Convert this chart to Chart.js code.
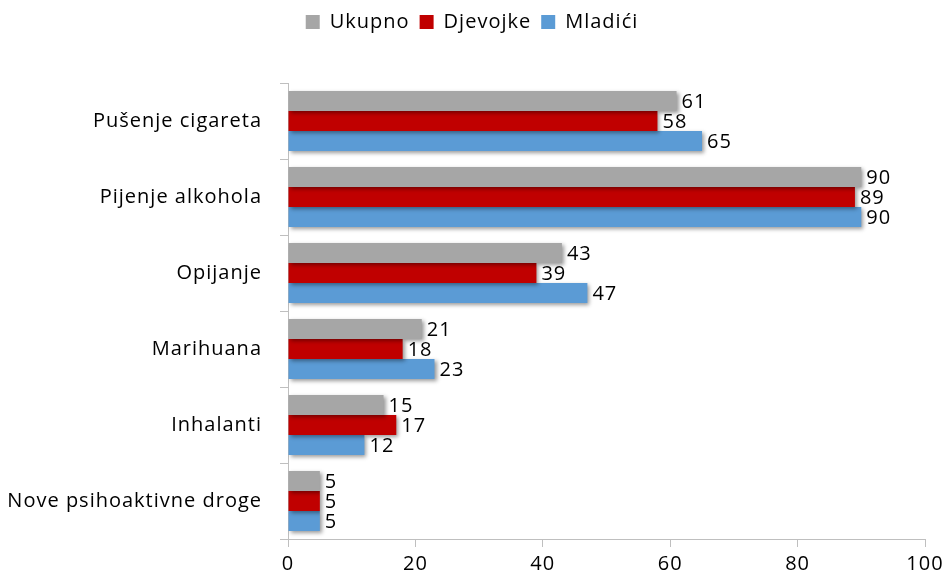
<!DOCTYPE html>
<html lang="hr">
<head>
    <meta charset="UTF-8">
    <title>Upotreba psihoaktivnih supstanci</title>
    <style>
        body {
            margin: 0;
            background-color: #fff;
        }
        .wrap {
            width: 944px;
            height: 581px;
        }
    </style>
    <script src="https://cdn.jsdelivr.net/npm/chart.js"></script>
</head>
<body>
    <div class="wrap">
        <canvas id="chart" width="944" height="581"></canvas>
    </div>

    <script>
        // podaci
        const kategorije = ['Pušenje cigareta', 'Pijenje alkohola', 'Opijanje', 'Marihuana', 'Inhalanti', 'Nove psihoaktivne droge'];
        const ukupno = [61, 90, 43, 21, 15, 5];
        const djevojke = [58, 89, 39, 18, 17, 5];
        const mladici = [65, 90, 47, 23, 12, 5];
        const xTicks = [0, 20, 40, 60, 80, 100];

        const fontFamily = '"Open Sans", sans-serif';
        const fontSize = 20;

        // razmak slova (kao u originalu)
        const spacingPlugin = {
            id: 'spacing',
            beforeUpdate(chart) { chart.ctx.letterSpacing = '1px'; },
            beforeDraw(chart) { chart.ctx.letterSpacing = '1px'; }
        };

        // sjena ispod stupaca
        const shadowPlugin = {
            id: 'shadow',
            beforeDatasetsDraw(chart) {
                const ctx = chart.ctx;
                ctx.save();
                ctx.shadowColor = 'rgba(0, 0, 0, 0.4)';
                ctx.shadowBlur = 4;
                ctx.shadowOffsetX = 2;
                ctx.shadowOffsetY = 2;
            },
            afterDatasetsDraw(chart) {
                chart.ctx.restore();
            }
        };

        // vrijednosti desno od stupaca
        const labelsPlugin = {
            id: 'valueLabels',
            afterDatasetsDraw(chart) {
                const ctx = chart.ctx;
                ctx.save();
                ctx.font = fontSize + 'px ' + fontFamily;
                ctx.fillStyle = '#000';
                ctx.textAlign = 'left';
                ctx.textBaseline = 'middle';
                chart.data.datasets.forEach((ds, i) => {
                    chart.getDatasetMeta(i).data.forEach((bar, j) => {
                        ctx.fillText(ds.data[j], bar.x + 5, bar.y + 1);
                    });
                });
                ctx.restore();
            }
        };

        // vise mjesta ispod legende
        const legendSpace = {
            id: 'legendSpace',
            beforeInit(chart) {
                const fit = chart.legend.fit;
                chart.legend.fit = function () {
                    fit.bind(chart.legend)();
                    this.height += 41;
                };
            }
        };

        new Chart(document.getElementById('chart'), {
            type: 'bar',
            data: {
                labels: kategorije,
                datasets: [
                    { label: 'Ukupno', data: ukupno, backgroundColor: '#a6a6a6' },
                    { label: 'Djevojke', data: djevojke, backgroundColor: '#c00000' },
                    { label: 'Mladići', data: mladici, backgroundColor: '#5b9bd5' }
                ]
            },
            options: {
                indexAxis: 'y',
                responsive: false,
                animation: false,
                layout: { padding: { left: 0, right: 0, top: 2, bottom: 0 } },
                datasets: {
                    bar: { categoryPercentage: 0.79, barPercentage: 1 }
                },
                plugins: {
                    tooltip: { enabled: false },
                    legend: {
                        position: 'top',
                        labels: {
                            boxWidth: 14,
                            boxHeight: 14,
                            padding: 10,
                            color: '#000',
                            font: { family: fontFamily, size: fontSize }
                        }
                    }
                },
                scales: {
                    x: {
                        min: 0,
                        max: 100,
                        afterBuildTicks(scale) {
                            scale.ticks = xTicks.map(v => ({ value: v }));
                        },
                        afterFit(scale) {
                            scale.paddingLeft = 0;
                            scale.paddingRight = 19;
                        },
                        grid: { drawOnChartArea: false, tickLength: 8, color: '#bfbfbf' },
                        border: { color: '#bfbfbf' },
                        ticks: {
                            padding: 5,
                            color: '#000',
                            font: { family: fontFamily, size: fontSize }
                        }
                    },
                    y: {
                        afterFit(scale) {
                            scale.width = 288;
                        },
                        grid: { offset: true, drawOnChartArea: false, tickLength: 8, color: '#bfbfbf' },
                        border: { color: '#bfbfbf' },
                        ticks: {
                            padding: 18,
                            color: '#000',
                            font: { family: fontFamily, size: fontSize }
                        }
                    }
                }
            },
            plugins: [spacingPlugin, shadowPlugin, labelsPlugin, legendSpace]
        });
    </script>
</body>
</html>
